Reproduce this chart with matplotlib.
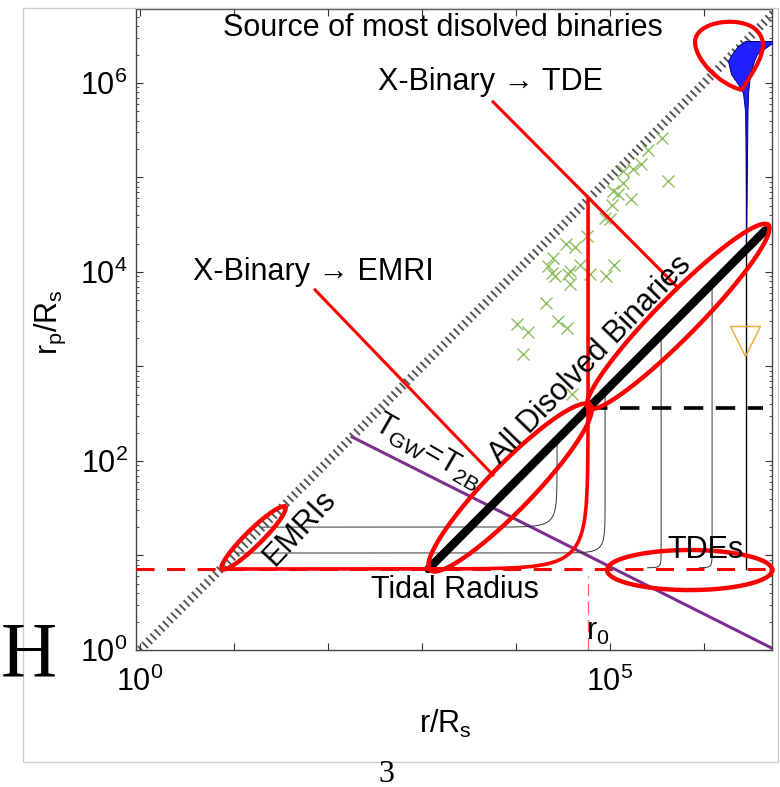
import matplotlib
matplotlib.use("Agg")
import matplotlib.pyplot as plt
import matplotlib.ticker as mticker
import numpy as np
from matplotlib.patches import PathPatch, Rectangle
from matplotlib.path import Path

plt.rcParams["font.family"] = ["Liberation Sans", "DejaVu Sans"]
plt.rcParams["mathtext.fontset"] = "custom"
plt.rcParams["mathtext.rm"] = "Liberation Sans"
plt.rcParams["mathtext.it"] = "Liberation Sans:italic"
plt.rcParams["mathtext.default"] = "regular"
plt.rcParams["lines.scale_dashes"] = False
plt.rcParams["hatch.linewidth"] = 1.4

# all positions below are log10(r/Rs), log10(rp/Rs)
LOG_XLIM = (-0.043, 6.723)
LOG_YLIM = (0.0, 6.783)
LOG_TIDAL = 0.857
LOG_R0 = 4.766
DISSOLVE_OFFSET = 2.21
LOG_EMRI_POINT = 0.872

green_log_r = [5.553, 5.404, 5.329, 5.244, 5.138, 5.138, 5.617, 5.031, 5.085,
               5.223, 5.021, 4.946, 5.000, 4.755, 4.531, 4.627, 4.393, 4.340,
               4.383, 4.414, 4.574, 4.680, 4.553, 4.787, 4.957, 5.042, 4.574,
               4.319, 4.010, 4.127, 4.446, 4.542, 4.074, 4.595]
green_log_rp = [5.418, 5.291, 5.143, 5.090, 5.069, 4.942, 4.963, 4.857, 4.825,
                4.772, 4.709, 4.571, 4.561, 4.381, 4.296, 4.265, 4.148, 4.063,
                3.989, 3.958, 4.011, 4.074, 3.979, 3.979, 3.958, 4.074, 3.873,
                3.672, 3.450, 3.365, 3.481, 3.407, 3.132, 2.709]

# thin black trajectories: constant rp level, turning up at r = turn
traj_level = [1.30, 1.026, 0.87, 0.87]
traj_turn = [4.436, 4.947, 5.543, 6.085]
traj_corner = [0.25, 0.2, 0.07, 0.07]
traj_start = [1.30, 1.026, 5.40, 5.95]

LOG_SOURCE_R = 6.446
LOG_SOURCE_TOP = 6.444

# distribution of sources at top right
dist_log_rp = [6.444, 6.392, 6.307, 6.233, 6.095, 5.989, 5.894, 5.704, 5.280,
               4.751, 4.328]
dist_log_left = [6.436, 6.361, 6.297, 6.255, 6.287, 6.361, 6.414, 6.436,
                 6.443, 6.446, 6.446]
dist_log_right = [6.755, 6.680, 6.563, 6.531, 6.489, 6.478, 6.468, 6.462,
                  6.457, 6.452, 6.446]

triangle_log = (6.436, 3.27)

purple_log_r = [2.255, 6.72]
purple_log_rp = [2.254, 0.02]

tde_line_log_r = [3.755, 5.713]
tde_line_log_rp = [5.80, 3.842]
emri_line_log_r = [1.862, 3.755]
emri_line_log_rp = [3.81, 1.852]

# red ellipses: centre, half axes, angle (log units)
ell_cx = [3.936, 5.724, 1.207, 5.846]
ell_cy = [1.719, 3.529, 1.185, 0.846]
ell_a = [1.219, 1.362, 0.469, 0.878]
ell_b = [0.24, 0.22, 0.085, 0.212]
ell_ang = [45.7, 45.3, 44.4, 0.0]

loop_log = [(6.404, 5.926), (6.170, 5.979), (5.904, 6.243), (5.904, 6.434),
            (5.904, 6.667), (6.436, 6.720), (6.574, 6.540), (6.723, 6.370),
            (6.511, 6.116), (6.404, 5.926)]


def l_curve(level, turn, corner, start, end_y, n=500):
    dy = corner * np.logspace(-3, np.log10((end_y - level) / corner), n)
    ly = level + dy
    lx = turn + corner * np.log10(1 - 10 ** (-dy / corner))
    keep = lx >= start
    lx = np.concatenate([[start], lx[keep]])
    ly = np.concatenate([[level], ly[keep]])
    return 10 ** lx, 10 ** ly


def ellipse(cx, cy, a, b, ang):
    t = np.linspace(0, 2 * np.pi, 400)
    c, s = np.cos(np.radians(ang)), np.sin(np.radians(ang))
    x = cx + a * np.cos(t) * c - b * np.sin(t) * s
    y = cy + a * np.cos(t) * s + b * np.sin(t) * c
    return 10 ** x, 10 ** y


fig = plt.figure(figsize=(7.8, 7.87), dpi=100)
ax = fig.add_axes([0.1744, 0.1741, 0.8154, 0.8145])
ax.set_xscale("log")
ax.set_yscale("log")
ax.set_xlim(10 ** LOG_XLIM[0], 10 ** LOG_XLIM[1])
ax.set_ylim(10 ** LOG_YLIM[0], 10 ** LOG_YLIM[1])

# forbidden region boundary rp = r
lx = np.array([-1.0, 8.0])
ax.fill_between(10 ** lx, 10 ** (lx - 0.065), 10 ** (lx + 0.065),
                facecolor="none", hatch="\\\\\\\\", edgecolor="#555555",
                linewidth=0, zorder=1)

ax.plot(10 ** np.array(green_log_r), 10 ** np.array(green_log_rp), "x",
        color="#8DBF5E", markersize=8, mew=1.0, zorder=2)

# tidal radius, r0
ax.plot(10 ** np.array(LOG_XLIM), [10 ** LOG_TIDAL] * 2, color="red", lw=2.2,
        dashes=(13, 9), zorder=3)
ax.plot([10 ** LOG_R0] * 2, [1, 10 ** (LOG_TIDAL - 0.07)], color="#ff6060",
        lw=0.9, dashes=(9, 4), zorder=3)

ax.plot(10 ** np.array(purple_log_r), 10 ** np.array(purple_log_rp),
        color="#7E2F8E", lw=2.2, zorder=3)

for lev, turn, cw, st in zip(traj_level, traj_turn, traj_corner, traj_start):
    x, y = l_curve(lev, turn, cw, st, turn - DISSOLVE_OFFSET)
    ax.plot(x, y, color="#333333", lw=0.7, zorder=3)
ax.plot([10 ** LOG_SOURCE_R] * 2, [10 ** LOG_TIDAL, 10 ** LOG_SOURCE_TOP],
        color="black", lw=1.0, zorder=3)

ax.fill_betweenx(10 ** np.array(dist_log_rp), 10 ** np.array(dist_log_left),
                 10 ** np.array(dist_log_right), facecolor="#1f1fff",
                 edgecolor="#000080", lw=0.7, zorder=3)

ax.plot([10 ** triangle_log[0]], [10 ** triangle_log[1]], "v", mfc="none",
        mec="#E8A838", markersize=21, mew=1.0, zorder=3)

# dissolved binaries locus
dlx = np.array([LOG_TIDAL + DISSOLVE_OFFSET, 6.65])
ax.plot(10 ** dlx, 10 ** (dlx - DISSOLVE_OFFSET), color="black", lw=6,
        solid_capstyle="round", zorder=4)
ax.plot(10 ** np.array([LOG_R0, 6.63]), [10 ** (LOG_R0 - DISSOLVE_OFFSET)] * 2,
        color="black", lw=2.6, dashes=(14, 9), zorder=4)

# red trajectory to r0
x, y = l_curve(LOG_TIDAL, LOG_R0, 0.6, LOG_EMRI_POINT, LOG_R0)
ax.plot(x, y, color="red", lw=2.6, zorder=5)

ax.plot(10 ** np.array(tde_line_log_r), 10 ** np.array(tde_line_log_rp),
        color="red", lw=2.2, zorder=5)
ax.plot(10 ** np.array(emri_line_log_r), 10 ** np.array(emri_line_log_rp),
        color="red", lw=2.2, zorder=5)

for cx, cy, a, b, ang in zip(ell_cx, ell_cy, ell_a, ell_b, ell_ang):
    x, y = ellipse(cx, cy, a, b, ang)
    ax.plot(x, y, color="red", lw=3.2, zorder=6, clip_on=False)

codes = [Path.MOVETO] + [Path.CURVE4] * 9
verts = [(10 ** px, 10 ** py) for px, py in loop_log]
ax.add_patch(PathPatch(Path(verts, codes), facecolor="none", edgecolor="red",
                       lw=3.0, zorder=6))

fs = 22
ax.text(10 ** 3.223, 10 ** 6.582, "Source of most disolved binaries",
        fontsize=fs, ha="center", va="center", zorder=7)
ax.text(10 ** 3.723, 10 ** 6.011, "X-Binary \u2192 TDE", fontsize=fs,
        ha="center", va="center", zorder=7)
ax.text(10 ** 1.840, 10 ** 4.0, "X-Binary \u2192 EMRI", fontsize=fs,
        ha="center", va="center", zorder=7)
ax.text(10 ** 4.787, 10 ** 3.069, "All Disolved Binaries", fontsize=fs,
        ha="center", va="center", rotation=46, zorder=7)
ax.text(10 ** 3.064, 10 ** 2.095, "$T_{GW}$=$T_{2B}$", fontsize=fs,
        ha="center", va="center", rotation=-30, zorder=7)
ax.text(10 ** 1.702, 10 ** 1.291, "EMRIs", fontsize=fs, ha="center",
        va="center", rotation=47, zorder=7)
ax.text(10 ** 3.351, 10 ** 0.635, "Tidal Radius", fontsize=fs, ha="center",
        va="center", zorder=7)
ax.text(10 ** 6.011, 10 ** 1.058, "TDEs", fontsize=fs, ha="center",
        va="center", zorder=7)
ax.text(10 ** 4.745, 10 ** 0.19, "r$_0$", fontsize=fs, ha="left",
        va="center", zorder=7)

# axes styling
ax.xaxis.set_major_locator(mticker.FixedLocator(10.0 ** np.arange(0, 7)))
ax.yaxis.set_major_locator(mticker.FixedLocator(10.0 ** np.arange(0, 7)))
x_labeled = [0, 5]
y_labeled = [0, 2, 4, 6]
ax.xaxis.set_major_formatter(mticker.FuncFormatter(
    lambda v, p: "$10^{%d}$" % round(np.log10(v))
    if round(np.log10(v)) in x_labeled else ""))
ax.yaxis.set_major_formatter(mticker.FuncFormatter(
    lambda v, p: "$10^{%d}$" % round(np.log10(v))
    if round(np.log10(v)) in y_labeled else ""))
ax.xaxis.set_minor_locator(mticker.LogLocator(subs=np.arange(2, 10)))
ax.yaxis.set_minor_locator(mticker.LogLocator(subs=np.arange(2, 10)))
ax.xaxis.set_minor_formatter(mticker.NullFormatter())
ax.yaxis.set_minor_formatter(mticker.NullFormatter())
ax.tick_params(which="both", direction="in", top=True, right=True,
               colors="#333333", labelcolor="black", labelsize=fs)
ax.tick_params(which="major", length=5, width=0.8)
ax.tick_params(which="minor", length=2.5, width=0.6)
ax.tick_params(axis="x", pad=12)
ax.tick_params(axis="y", pad=6)
for sp in ax.spines.values():
    sp.set_color("#444444")
    sp.set_linewidth(1.0)

fig.text(50 / 780, 1 - 322 / 787, "r$_p$/R$_s$", fontsize=fs, rotation=90,
         ha="center", va="center")
fig.text(445 / 780, 1 - 724 / 787, "r/R$_s$", fontsize=fs, ha="center",
         va="center")

# page artefacts around the figure
fig.add_artist(Rectangle((23 / 780, 1 - 762 / 787), 755 / 780, 754 / 787,
                         transform=fig.transFigure, fill=False,
                         edgecolor="#cccccc", lw=1.0))
fig.text(29 / 780, 1 - 657 / 787, "H", fontsize=56, ha="center", va="center",
         family=["Liberation Serif", "DejaVu Serif"])
fig.text(386 / 780, 1 - 774 / 787, "3", fontsize=23, ha="center", va="center",
         family=["Liberation Serif", "DejaVu Serif"])

fig.savefig("out.png", dpi=100)
